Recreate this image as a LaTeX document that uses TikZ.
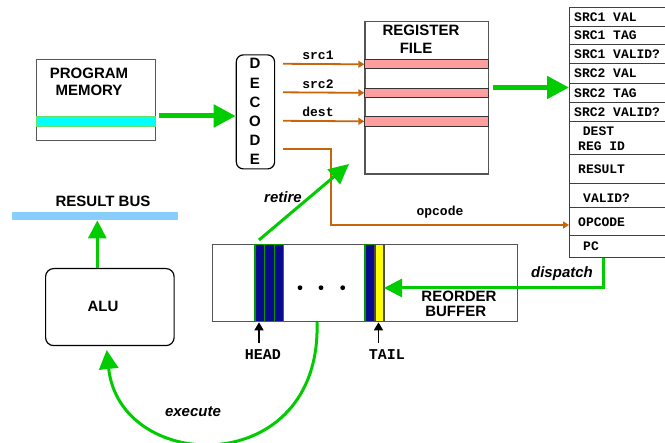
\documentclass[tikz,border=0pt]{standalone}
\usepackage{fontspec}
\setmainfont{Liberation Sans}
\newfontfamily\monof{Liberation Mono}
\usetikzlibrary{arrows.meta}
\definecolor{grn}{HTML}{00CC00}
\definecolor{org}{HTML}{C8640A}
\definecolor{pnk}{HTML}{FF9E9E}
\definecolor{cyn}{HTML}{00FFFF}
\definecolor{navyb}{HTML}{0A0A8C}
\definecolor{ylw}{HTML}{FFFF00}
\definecolor{busc}{HTML}{87CEFA}
\definecolor{bord}{HTML}{555555}
\definecolor{lgrn}{HTML}{66E066}
\begin{document}
\begin{tikzpicture}[x=1pt,y=-1pt,
  box/.style={draw=bord, line width=1.3pt, inner sep=0pt, anchor=north west},
  stripe/.style={inner sep=0pt, anchor=north west, line width=1pt},
  row/.style={draw=black!75, line width=1pt, inner sep=0pt, anchor=north west, minimum width=130pt},
  sanslbl/.style={font=\bfseries\fontsize{15}{17}\selectfont, inner sep=0pt},
  itlbl/.style={font=\bfseries\itshape\fontsize{15}{17}\selectfont, inner sep=0pt},
  monolbl/.style={font=\monof\bfseries\fontsize{13}{15}\selectfont, inner sep=0pt},
  rtxt/.style={font=\monof\bfseries\fontsize{13}{15}\selectfont, inner sep=0pt, anchor=west},
  bigarrow/.style={draw=grn, line width=5pt, -{Triangle[length=22pt,width=22pt]}},
  medarrow/.style={draw=grn, line width=3pt, -{Triangle[length=18pt,width=18pt]}},
  orgarrow/.style={draw=org, line width=1.8pt, -{Triangle[length=6pt,width=7pt]}},
  ptrarrow/.style={draw=black, line width=1.5pt, -{Triangle[length=8pt,width=9pt]}},
  slot/.style={draw=green!60!black, line width=1.2pt, fill=navyb, inner sep=0pt, anchor=north west, minimum height=77pt}
]
\useasboundingbox (0,0) rectangle (665,443);
\clip (0,0) rectangle (665,443);

% Program memory
\node[box, minimum width=119.3pt, minimum height=81pt] (pm) at (35.7,59) {};
\node[stripe, draw=lgrn, fill=cyn, minimum width=119.3pt, minimum height=10pt] (pms) at (35.7,116) {};
\node[sanslbl, align=center] (pmt) at (89,82) {PROGRAM\\[0pt]MEMORY};

% Decode
\node[draw=black, line width=1.2pt, rounded corners=7pt, inner sep=0pt, anchor=north west,
      minimum width=38.3pt, minimum height=114pt] (dec) at (235.7,54.3) {};
\foreach \ch/\yy [count=\i] in {D/63.5,E/83,C/102.5,O/121.5,D/140.5,E/159}
  \node[sanslbl] (dl\i) at (255,\yy) {\ch};

% Register file
\node[box, minimum width=123.7pt, minimum height=152.6pt] (rf) at (364.3,20.7) {};
\node[stripe, draw=black!80, fill=pnk, minimum width=123.7pt, minimum height=9pt] (p1) at (364.3,59.3) {};
\node[stripe, draw=black!80, fill=pnk, minimum width=123.7pt, minimum height=9.3pt] (p2) at (364.3,87.7) {};
\node[stripe, draw=black!80, fill=pnk, minimum width=123.7pt, minimum height=9.7pt] (p3) at (364.3,116) {};
\node[sanslbl] (rft1) at (421,30) {REGISTER};
\node[sanslbl] (rft2) at (416,48.5) {FILE};

% Decode -> register file
\coordinate (o1) at (283,63.8);
\coordinate (o2) at (283,92.3);
\coordinate (o3) at (283,120.8);
\draw[orgarrow] (o1) -- (p1.west);
\draw[orgarrow] (o2) -- (p2.west);
\draw[orgarrow] (o3) -- (p3.west);
\node[monolbl] (ls1) at (318,55) {src1};
\node[monolbl] (ls2) at (318,84) {src2};
\node[monolbl] (ls3) at (318,112) {dest};

% Record
\node[row, minimum height=19pt] (r1) at (569,7) {};
\node[row, minimum height=18pt] (r2) at (569,26) {};
\node[row, minimum height=19pt] (r3) at (569,44) {};
\node[row, minimum height=20pt] (r4) at (569,63) {};
\node[row, minimum height=19pt] (r5) at (569,83) {};
\node[row, minimum height=19pt] (r6) at (569,102) {};
\node[row, minimum height=33pt] (r7) at (569,121) {};
\node[row, minimum height=29pt] (r8) at (569,154) {};
\node[row, minimum height=24pt] (r9) at (569,183) {};
\node[row, minimum height=28pt] (r10) at (569,207) {};
\node[row, minimum height=22pt] (r11) at (569,235) {};
\node[rtxt] (t1) at (574,17) {SRC1 VAL};
\node[rtxt] (t2) at (574,35.5) {SRC1 TAG};
\node[rtxt] (t3) at (574,54) {SRC1 VALID?};
\node[rtxt] (t4) at (574,73.5) {SRC2 VAL};
\node[rtxt] (t5) at (574,93) {SRC2 TAG};
\node[rtxt] (t6) at (574,112) {SRC2 VALID?};
\node[rtxt] (t7) at (582.7,131.5) {DEST};
\node[rtxt] (t7b) at (578,146.5) {REG ID};
\node[rtxt] (t8) at (578,169) {RESULT};
\node[rtxt] (t9) at (583,198) {VALID?};
\node[rtxt] (t10) at (578,222) {OPCODE};
\node[rtxt] (t11) at (583,246) {PC};

% Opcode path
\coordinate (o4) at (283,149);
\coordinate (o4b) at (330.7,225);
\draw[orgarrow] (o4) -| (o4b) -- (r10.west |- o4b);
\node[monolbl] (lop) at (440,212) {opcode};

% Big green arrows
\coordinate (g1) at (159.3,116);
\draw[bigarrow] (g1) -- (dec.west |- g1);
\coordinate (g2) at (492.7,87.5);
\draw[bigarrow] (g2) -- (r5.west |- g2);

% Result bus & ALU
\node[fill=busc, inner sep=0pt, anchor=north west, minimum width=166pt, minimum height=8pt] (bus) at (12,212) {};
\node[sanslbl] (bust) at (103,201.5) {RESULT BUS};
\node[draw=black, line width=1.2pt, rounded corners=8pt, inner sep=0pt, anchor=north west,
      minimum width=128.5pt, minimum height=77pt] (alu) at (45,268) {};
\node[sanslbl] (alut) at (103,306) {ALU};
\coordinate (au) at (97.3,268);
\draw[medarrow] (au) -- (au |- bus.south);

% Reorder buffer
\node[box, minimum width=304.5pt, minimum height=77pt] (rob) at (212,244) {};
\node[slot, minimum width=9.5pt] (h1) at (254.3,244) {};
\node[slot, minimum width=9.7pt] (h2) at (263.8,244) {};
\node[slot, minimum width=9.5pt] (h3) at (273.5,244) {};
\node[slot, minimum width=10pt] (tb) at (364.3,244) {};
\node[slot, draw=black!70, fill=ylw, minimum width=9pt] (ty) at (374.3,244) {};
\foreach \xx [count=\i] in {300,321,342.7}
  \fill (\xx,287.7) circle (2.4pt) coordinate (dot\i);
\node[sanslbl] (robt1) at (459,296) {REORDER};
\node[sanslbl] (robt2) at (455.7,311) {BUFFER};

% HEAD / TAIL
\node[font=\monof\bfseries\fontsize{15}{17}\selectfont, inner sep=0pt] (head) at (263,355) {HEAD};
\node[font=\monof\bfseries\fontsize{15}{17}\selectfont, inner sep=0pt] (tail) at (387,354.5) {TAIL};
\coordinate (hb) at (259,343);
\coordinate (tlb) at (378.5,343);
\draw[ptrarrow] (hb) -- (hb |- rob.south);
\draw[ptrarrow] (tlb) -- (tlb |- rob.south);

% Retire
\coordinate (rs) at (259,240);
\coordinate (re) at (349,164);
\draw[draw=grn, line width=3pt, -{Triangle[length=20pt,width=19pt]}] (rs) -- (re);
\node[itlbl] (lret) at (283,197) {retire};

% Dispatch
\coordinate (ds) at (603,258.5);
\coordinate (de) at (384,288);
\draw[medarrow] (ds) |- (de);
\node[itlbl] (ldis) at (562,273.5) {dispatch};

% Execute
\coordinate (es) at (317,322);
\coordinate (ee) at (106.7,350);
\draw[draw=grn, line width=3pt, -{Triangle[length=19pt,width=19pt]}]
  (es) .. controls (322,480) and (120,475) .. (ee);
\node[itlbl] (lex) at (193,411.5) {execute};
\end{tikzpicture}
\end{document}
